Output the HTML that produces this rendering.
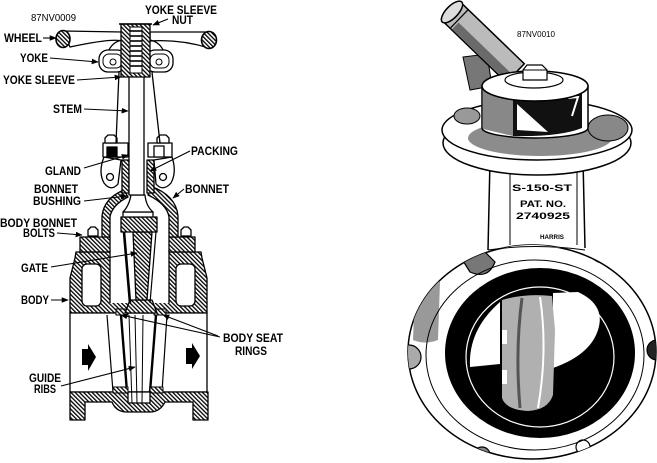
<!DOCTYPE html>
<html><head><meta charset="utf-8"><style>
html,body{margin:0;padding:0;background:#fff;}
svg{display:block;}
text{font-family:"Liberation Sans",Arial,sans-serif;fill:#000;}
</style></head><body>
<svg width="657" height="463" viewBox="0 0 657 463" xmlns="http://www.w3.org/2000/svg">
<defs>
<pattern id="h" width="3" height="3" patternUnits="userSpaceOnUse" patternTransform="rotate(-45)">
<rect width="3" height="3" fill="#fff"/><rect width="1.3" height="3" fill="#000"/>
</pattern>
<marker id="a" viewBox="0 0 10 10" refX="9" refY="5" markerWidth="7" markerHeight="7" markerUnits="userSpaceOnUse" orient="auto"><path d="M0,1 L10,5 L0,9 Z" fill="#000"/></marker>
<clipPath id="bodyclip"><ellipse cx="532" cy="352" rx="124" ry="107"/></clipPath>
</defs>

<!-- ================= LEFT: GATE VALVE ================= -->
<g stroke="#000" stroke-width="1.3" stroke-linejoin="round">
<!-- body upper section -->
<path d="M76,252 L201,252 L202,258 L207,278 L207,313 L70,313 L70,278 L75,258 Z" fill="url(#h)"/>
<rect x="82" y="264" width="19" height="42" rx="5" fill="#fff"/>
<rect x="176" y="264" width="19" height="42" rx="5" fill="#fff"/>
<rect x="110" y="250" width="59" height="53" fill="#fff" stroke="none"/>
<line x1="110" y1="250" x2="110" y2="303"/>
<line x1="169" y1="250" x2="169" y2="303"/>
<!-- pipe bore -->
<rect x="70" y="313" width="137" height="79" fill="#fff"/>
<!-- bottom -->
<path d="M70,392 L208,392 L208,420 L193,420 L193,402 L165,402 Q160,412 150,412 L127,412 Q116,412 112,402 L85,402 L85,420 L70,420 Z" fill="url(#h)"/>
<rect x="128" y="392" width="22" height="11" fill="#fff"/>
<!-- gate in bore -->
<line x1="107" y1="315" x2="113" y2="392" stroke-width="1.2"/>
<line x1="121" y1="315" x2="127" y2="392" stroke-width="2.4"/>
<line x1="129" y1="315" x2="132" y2="403" stroke-width="1"/>
<line x1="135" y1="315" x2="137" y2="403" stroke-width="1"/>
<line x1="143" y1="315" x2="142" y2="403" stroke-width="1"/>
<line x1="156" y1="315" x2="150" y2="392" stroke-width="2.4"/>
<line x1="167" y1="315" x2="162" y2="392" stroke-width="1.2"/>
<rect x="113" y="387" width="15" height="6" fill="url(#h)" stroke-width="1"/>
<rect x="150" y="387" width="13" height="6" fill="url(#h)" stroke-width="1"/>
<!-- seat rings -->
<rect x="116" y="309" width="12" height="6" fill="url(#h)" stroke-width="1"/>
<rect x="154" y="309" width="12" height="6" fill="url(#h)" stroke-width="1"/>
<!-- gate in cavity -->
<path d="M130,300 L152,300 L157,313 L125,313 Z" fill="url(#h)"/>
<path d="M133,232 L152,232 L147,300 L136,300 Z" fill="url(#h)"/>
<line x1="124" y1="232" x2="130" y2="303" stroke-width="2.6"/>
<line x1="156" y1="232" x2="150" y2="303" stroke-width="1.2"/>
<!-- flanges -->
<rect x="80" y="237" width="30" height="15" fill="url(#h)"/>
<rect x="169" y="237" width="26" height="15" fill="url(#h)"/>
<path d="M88,236 L88,230 L91,227 L95,227 L98,230 L98,236 Z" fill="#fff"/>
<path d="M181,236 L181,230 L184,227 L188,227 L191,230 L191,236 Z" fill="#fff"/>
<!-- bonnet shell -->
<path d="M124,190 Q104,198 102,216 L102,237 L110,237 L110,217 Q112,205 128,197 Z" fill="url(#h)"/>
<path d="M150,186 Q176,195 178,216 L178,237 L169,237 L169,217 Q167,204 148,195 Z" fill="url(#h)"/>
<!-- gate top block -->
<rect x="121" y="217" width="36" height="15" fill="url(#h)"/>
<!-- bushing -->
<rect x="123" y="212" width="30" height="5" fill="#fff"/>
<path d="M131,195 L145,195 Q146,206 153,212 L123,212 Q129,206 131,195 Z" fill="#fff"/>
<!-- packing -->
<rect x="122" y="160" width="7" height="33" fill="url(#h)"/>
<rect x="147" y="160" width="7" height="33" fill="url(#h)"/>
<!-- gland eyes -->
<path d="M104,157 Q98,172 104,183 Q111,192 118,184 L121,160 Z" fill="#fff"/>
<circle cx="110" cy="177" r="3.5" fill="#fff"/>
<path d="M172,157 Q177,172 171,183 Q163,192 156,184 L154,160 Z" fill="#fff"/>
<circle cx="163" cy="177" r="3.5" fill="#fff"/>
<!-- gland flanges -->
<rect x="103" y="143" width="25" height="14" fill="#fff"/>
<rect x="107" y="147" width="10" height="10" fill="#000"/>
<rect x="148" y="143" width="24" height="14" fill="#fff"/>
<rect x="154" y="146" width="10" height="11" fill="#fff"/>
<path d="M105,143 L105,138 L108,135 L114,135 L117,138 L117,143 Z" fill="#fff"/>
<path d="M157,143 L157,138 L160,135 L166,135 L169,138 L169,143 Z" fill="#fff"/>
<!-- yoke arms -->
<line x1="119" y1="72" x2="116" y2="143"/>
<line x1="152" y1="72" x2="160" y2="143"/>
<!-- stem -->
<rect x="129" y="72" width="15" height="123" fill="#fff"/>
<!-- wheel spokes -->
<path d="M63,31 L122,32 L122,41 Q112,38 70,47 Z" fill="#fff"/>
<path d="M150,32 L209,32 L209,48 Q180,39 150,41 Z" fill="#fff"/>
<path d="M122,40 Q112,42 108,52" fill="none"/>
<path d="M150,40 Q160,42 164,52" fill="none"/>
<ellipse cx="63" cy="39" rx="7" ry="8.5" fill="url(#h)" stroke-width="1.6"/>
<ellipse cx="209" cy="40" rx="7.5" ry="8.5" fill="url(#h)" stroke-width="1.6"/>
<!-- yoke lugs -->
<rect x="99" y="50" width="27" height="22" rx="9" fill="#fff"/>
<rect x="103" y="54" width="19" height="14" rx="6" fill="#fff" stroke-width="1"/>
<circle cx="113" cy="62" r="3" fill="#fff" stroke-width="1"/>
<rect x="146" y="50" width="27" height="22" rx="9" fill="#fff"/>
<rect x="150" y="54" width="19" height="14" rx="6" fill="#fff" stroke-width="1"/>
<circle cx="159" cy="62" r="3" fill="#fff" stroke-width="1"/>
<!-- sleeve -->
<rect x="121" y="24" width="29" height="53" fill="url(#h)"/>
<rect x="130" y="27" width="12" height="46" fill="#fff" stroke-width="1"/>
<g stroke-width="1.6">
<line x1="130" y1="31" x2="142" y2="31"/><line x1="130" y1="36" x2="142" y2="36"/>
<line x1="130" y1="41" x2="142" y2="41"/><line x1="130" y1="46" x2="142" y2="46"/>
<line x1="130" y1="51" x2="142" y2="51"/><line x1="130" y1="56" x2="142" y2="56"/>
<line x1="130" y1="61" x2="142" y2="61"/><line x1="130" y1="66" x2="142" y2="66"/>
</g>
<line x1="119" y1="24" x2="152" y2="24" stroke-width="1.6"/>
</g>
<!-- flow arrows -->
<path d="M82,349 L88,349 L88,344 L96,357 L88,371 L88,365 L82,365 Z" fill="#000"/>
<path d="M186,348 L192,348 L192,343 L200,356 L192,369 L192,364 L186,364 Z" fill="#000"/>

<!-- leaders -->
<g stroke="#000" stroke-width="1.1" fill="none" marker-end="url(#a)">
<line x1="168" y1="19" x2="153" y2="25"/>
<line x1="43" y1="38" x2="56" y2="38"/>
<line x1="50" y1="58" x2="98" y2="62"/>
<line x1="77" y1="80" x2="121" y2="77"/>
<line x1="84" y1="109" x2="128" y2="111"/>
<line x1="190" y1="151" x2="150" y2="171"/>
<line x1="84" y1="168" x2="128" y2="155"/>
<line x1="84" y1="201" x2="127" y2="196"/>
<line x1="184" y1="189" x2="173" y2="198"/>
<line x1="57" y1="233" x2="82" y2="235"/>
<line x1="51" y1="267" x2="137" y2="253"/>
<line x1="51" y1="300" x2="68" y2="300"/>
<line x1="220" y1="337" x2="121" y2="315"/>
<line x1="218" y1="336" x2="163" y2="315"/>
<line x1="61" y1="386" x2="135" y2="367"/>
</g>

<!-- labels -->
<g font-size="12" font-weight="bold">
<text x="145" y="14" textLength="72" lengthAdjust="spacingAndGlyphs">YOKE SLEEVE</text>
<text x="172" y="24" textLength="21" lengthAdjust="spacingAndGlyphs">NUT</text>
<text x="4" y="42" textLength="38" lengthAdjust="spacingAndGlyphs">WHEEL</text>
<text x="20" y="62" textLength="28" lengthAdjust="spacingAndGlyphs">YOKE</text>
<text x="3" y="84" textLength="72" lengthAdjust="spacingAndGlyphs">YOKE SLEEVE</text>
<text x="53" y="113" textLength="29" lengthAdjust="spacingAndGlyphs">STEM</text>
<text x="191" y="155" textLength="47" lengthAdjust="spacingAndGlyphs">PACKING</text>
<text x="45" y="175" textLength="36" lengthAdjust="spacingAndGlyphs">GLAND</text>
<text x="34" y="193" textLength="44" lengthAdjust="spacingAndGlyphs">BONNET</text>
<text x="33" y="205" textLength="48" lengthAdjust="spacingAndGlyphs">BUSHING</text>
<text x="185" y="193" textLength="44" lengthAdjust="spacingAndGlyphs">BONNET</text>
<text x="0" y="227" textLength="77" lengthAdjust="spacingAndGlyphs">BODY BONNET</text>
<text x="23" y="237" textLength="32" lengthAdjust="spacingAndGlyphs">BOLTS</text>
<text x="21" y="272" textLength="27" lengthAdjust="spacingAndGlyphs">GATE</text>
<text x="21" y="304" textLength="28" lengthAdjust="spacingAndGlyphs">BODY</text>
<text x="223" y="342" textLength="60" lengthAdjust="spacingAndGlyphs">BODY SEAT</text>
<text x="235" y="355" textLength="32" lengthAdjust="spacingAndGlyphs">RINGS</text>
<text x="29" y="382" textLength="32" lengthAdjust="spacingAndGlyphs">GUIDE</text>
<text x="34" y="393" textLength="22" lengthAdjust="spacingAndGlyphs">RIBS</text>
</g>
<text x="31" y="21" font-size="10.5" textLength="45" lengthAdjust="spacingAndGlyphs">87NV0009</text>
<text x="517" y="37" font-size="8.5" textLength="38" lengthAdjust="spacingAndGlyphs">87NV0010</text>

<!-- ================= RIGHT: BUTTERFLY VALVE ================= -->
<g stroke="#000" stroke-width="1.5">
<!-- neck -->
<rect x="490" y="160" width="93" height="100" fill="#fff" stroke="none"/>
<line x1="490" y1="160" x2="488" y2="250"/>
<line x1="583" y1="160" x2="585" y2="248"/>
<line x1="510" y1="172" x2="510" y2="245" stroke-width="1"/>
<line x1="577" y1="172" x2="577" y2="245" stroke-width="1"/>
<!-- body -->
<ellipse cx="532" cy="352" rx="124" ry="107" fill="#fff"/>
<g clip-path="url(#bodyclip)">
<rect x="489" y="230" width="95" height="18" fill="#fff" stroke="none"/>
<circle cx="409" cy="357" r="12" fill="#aaa" stroke-width="1.2"/>
<circle cx="657" cy="350" r="10" fill="#222" stroke-width="1.2"/>
<circle cx="482" cy="455" r="8" fill="#888" stroke-width="1.2"/>
<circle cx="583" cy="447" r="7" fill="#fff" stroke-width="1.2"/>
<path d="M455,248 Q470,238 478,245 L495,262 Q488,280 470,272 Z" fill="#777" stroke-width="1.2"/>
<path d="M588,238 Q605,236 615,248 L610,262 Q598,266 590,255 Z" fill="#333" stroke-width="1.2"/>
<path d="M415,290 Q425,275 440,282 L438,340 Q425,345 413,340 Z" fill="#999" stroke="none"/>
</g>
<path d="M488,250 Q535,243 585,250" fill="none" stroke-width="1"/>
<ellipse cx="535" cy="355" rx="109" ry="95" fill="none" stroke-width="1"/>
<!-- black ring and bore -->
<ellipse cx="540" cy="353" rx="95" ry="85" fill="#000" stroke="none"/>
<ellipse cx="540" cy="357" rx="74" ry="70" fill="none" stroke="#fff" stroke-width="1.2"/>
<path d="M500,302 L500,364 L470,367 Q468,330 500,302 Z" fill="#fff" stroke="none"/>
<path d="M553,293 L578,292 Q606,305 598,330 Q590,355 553,368 Z" fill="#fff" stroke="none"/>
<!-- disc -->
<path d="M502,300 Q525,293 552,296 L555,330 L553,395 Q548,410 528,411 Q506,410 502,398 Z" fill="#b0b0b0" stroke="none"/>
<path d="M522,298 Q515,350 520,408" fill="none" stroke="#555" stroke-width="3"/>
<path d="M540,297 Q548,350 538,408" fill="none" stroke="#fff" stroke-width="2"/>
<rect x="502" y="330" width="5" height="14" fill="#fff" stroke="none"/>
<rect x="502" y="370" width="5" height="14" fill="#fff" stroke="none"/>
<!-- flange -->
<ellipse cx="537" cy="143" rx="94" ry="32" fill="#fff"/>
<ellipse cx="537" cy="130" rx="95" ry="30" fill="#fff"/>
<ellipse cx="540" cy="138" rx="72" ry="18" fill="#8c8c8c" stroke="none"/>
<ellipse cx="467" cy="116" rx="13" ry="8" fill="#999" stroke-width="1"/>
<ellipse cx="608" cy="128" rx="20" ry="13" fill="#888" stroke-width="1"/>
<!-- handle -->
<path d="M463,57 L487,54 L492,86 L470,90 Z" fill="#777" stroke-width="1"/>
<g transform="translate(452,12) rotate(44)">
<rect x="0" y="-13" width="88" height="26" fill="#bbb"/>
<rect x="12" y="3" width="74" height="9" fill="#6a6a6a" stroke="none"/>
<line x1="10" y1="-13" x2="10" y2="13" stroke-width="1.2"/>
<ellipse cx="0" cy="0" rx="6" ry="14" fill="#ddd"/>
</g>
<!-- cylinder -->
<path d="M482,86 L482,128 A53,10 0 0,0 588,128 L588,86 Z" fill="#fff"/>
<path d="M483,89 L513,95 L513,136 L483,129 Z" fill="#888" stroke="none"/>
<path d="M513,94 L582,92 L582,128 Q560,137 513,136 Z" fill="#111" stroke="none"/>
<path d="M517,104 L517,130 L548,132 Z" fill="#fff" stroke="none"/>
<path d="M568,98 L578,97 L572,116" fill="none" stroke="#fff" stroke-width="2"/>
<ellipse cx="535" cy="86" rx="53" ry="15" fill="#fff"/>
<ellipse cx="534" cy="80" rx="29" ry="8" fill="#fff" stroke-width="1.2"/>
<path d="M523,80 L523,70 L527,65 L542,65 L547,70 L547,80 Z" fill="#fff" stroke-width="1.2"/>
<line x1="523" y1="70" x2="547" y2="70" stroke-width="1"/>
</g>
<!-- neck stencil text -->
<g font-size="9" fill="#333" font-weight="bold">
<text x="512" y="191" textLength="60" lengthAdjust="spacingAndGlyphs">S-150-ST</text>
<text x="520" y="207" textLength="46" lengthAdjust="spacingAndGlyphs">PAT. NO.</text>
<text x="516" y="219" textLength="54" lengthAdjust="spacingAndGlyphs">2740925</text>
<text x="540" y="239" font-size="6" textLength="24" lengthAdjust="spacingAndGlyphs">HARRIS</text>
</g>
</svg>
</body></html>
